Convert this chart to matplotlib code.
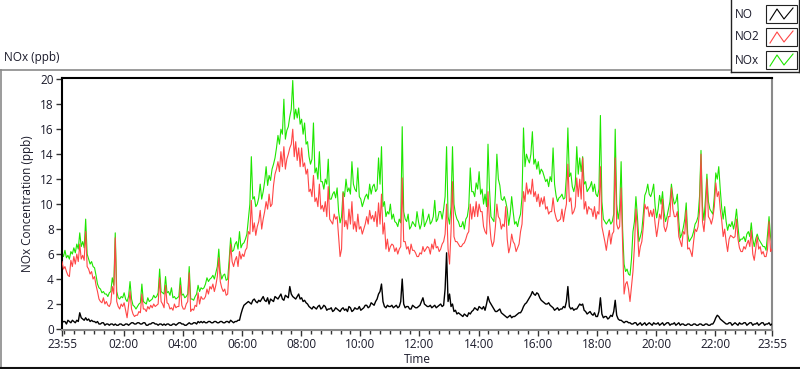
import matplotlib
matplotlib.use("Agg")
import matplotlib.pyplot as plt
import matplotlib.dates as mdates
from matplotlib.lines import Line2D
from matplotlib.patches import Rectangle
import pandas as pd

# ---------------- data (ppb) ----------------
# "_a" values: every 6 minutes from 23:55 (241 values)
# "_b" values: the samples in between, 3 minutes after each "_a" value (240 values)
start_time = "2024-01-01 23:55"
end_time = "2024-01-02 23:55"
step = "3min"

nox_a = [6.1, 6.3, 5.9, 6.2, 6.5, 6.8, 7.7, 7.0, 8.8, 5.6, 5.4, 4.9, 3.6, 3.2, 3.0, 2.8, 2.9, 4.1, 7.7, 2.5,
         2.6, 2.9, 2.2, 3.8, 1.9, 1.6, 2.0, 3.6, 2.1, 2.5, 2.3, 2.7, 2.6, 4.8, 2.9, 4.2, 3.0, 3.3, 2.6, 2.5,
         4.1, 2.8, 2.6, 5.0, 2.4, 2.6, 3.5, 3.3,
         3.3, 4.1, 4.0, 4.3, 4.5, 6.4, 4.0, 4.4, 4.0, 7.3, 6.3, 7.0, 7.8, 6.8, 7.2, 8.8, 13.8, 10.6, 10.0, 11.6,
         11.0, 13.0, 12.3, 12.8, 13.7, 15.5, 16.0, 18.4, 15.9, 17.0, 19.9, 17.6, 17.7, 16.8, 16.5, 15.0, 13.2, 16.5, 12.9, 14.2,
         11.8, 12.0, 13.6, 10.4, 11.0, 11.3, 8.5, 11.0,
         12.0, 11.3, 13.4, 11.2, 12.9, 10.4, 10.2, 10.8, 11.6, 11.4, 11.0, 13.7, 14.6, 10.2, 9.4, 10.0, 9.2, 8.5, 8.8, 16.2,
         8.8, 9.2, 8.2, 8.4, 9.4, 8.0, 9.6, 8.5, 9.2, 8.6, 10.3, 8.8, 9.4, 9.6, 14.6, 8.4, 14.6, 9.2, 8.6, 8.2,
         8.0, 9.0, 12.9, 11.0, 11.7, 12.6, 11.2, 10.8,
         14.8, 9.0, 8.6, 14.0, 11.5, 10.3, 10.2, 8.3, 10.6, 8.4, 8.2, 9.2, 16.1, 14.0, 13.3, 15.8, 13.6, 13.4, 12.8, 12.2,
         12.0, 12.2, 14.5, 10.7, 10.5, 10.8, 10.5, 16.1, 12.5, 11.0, 14.6, 13.7, 13.8, 11.8, 11.2, 11.8, 11.6, 10.6, 17.1, 8.8,
         8.4, 8.8, 8.6, 16.0, 8.8, 13.4, 5.2, 4.8,
         4.3, 7.8, 10.6, 7.0, 7.9, 10.7, 11.6, 10.6, 11.6, 8.9, 10.7, 11.0, 8.6, 9.6, 11.6, 10.0, 10.8, 7.3, 8.1, 10.1,
         7.0, 7.4, 8.4, 9.0, 14.3, 8.7, 12.4, 9.6, 9.2, 12.5, 13.0, 9.7, 9.8, 7.9, 8.2, 8.0, 9.6, 7.0, 7.2, 7.0,
         7.8, 8.5, 6.6, 7.6, 7.0, 6.6, 6.3, 9.0, 6.8]
nox_b = [5.8, 5.7, 5.6, 6.0, 6.1, 6.4, 6.6, 6.5, 6.0, 5.2, 5.0, 4.3, 3.3, 2.9, 2.8, 2.6, 3.0, 3.5, 3.0, 2.4,
         2.5, 2.4, 2.6, 2.4, 1.8, 1.8, 2.1, 2.2, 2.0, 2.2, 2.4, 2.5, 2.9, 3.0, 2.8, 2.9, 2.7, 2.5, 2.4, 2.6,
         2.7, 2.5, 2.8, 2.4, 2.3, 2.8, 3.0, 3.2,
         3.6, 3.8, 4.1, 4.0, 5.0, 4.6, 4.3, 3.9, 5.5, 6.2, 6.8, 6.4, 6.5, 6.9, 7.6, 10.0, 10.4, 9.8, 10.5, 10.4,
         11.8, 11.5, 11.9, 13.2, 14.5, 14.8, 15.6, 15.2, 16.2, 17.6, 16.8, 16.9, 16.4, 15.6, 14.8, 13.8, 13.6, 12.5, 12.0, 11.8,
         11.2, 11.6, 10.4, 10.8, 10.5, 9.4, 9.0, 10.6,
         11.0, 10.8, 11.6, 11.0, 10.6, 9.8, 10.6, 10.4, 10.8, 11.6, 11.2, 11.6, 9.8, 9.0, 9.2, 8.8, 8.6, 8.2, 8.5, 9.4,
         8.6, 8.0, 8.6, 8.2, 8.6, 8.4, 8.2, 8.8, 8.4, 9.0, 8.6, 9.4, 8.8, 10.6, 9.0, 9.8, 10.0, 8.8, 8.2, 8.6,
         8.8, 9.8, 11.0, 10.6, 11.2, 10.8, 10.0, 9.8,
         11.2, 8.8, 10.8, 12.0, 10.4, 10.6, 9.6, 9.2, 9.4, 8.6, 8.8, 10.6, 13.0, 13.6, 14.0, 13.2, 12.8, 12.4, 12.6, 11.8,
         11.4, 11.8, 11.6, 10.2, 10.6, 10.4, 12.2, 12.2, 11.4, 11.6, 12.4, 12.6, 11.6, 11.0, 11.4, 11.0, 10.8, 11.2, 10.2, 8.6,
         8.6, 8.4, 9.2, 10.0, 9.6, 8.0, 4.6, 4.4,
         5.6, 8.6, 9.0, 7.4, 9.2, 11.0, 10.8, 11.0, 9.8, 9.6, 10.0, 9.4, 9.0, 10.2, 10.6, 10.2, 8.6, 7.6, 8.8, 7.6,
         7.2, 7.8, 8.6, 10.6, 9.8, 10.4, 10.2, 9.4, 10.6, 12.0, 11.2, 8.8, 8.6, 8.4, 8.6, 8.6, 8.2, 7.2, 7.4, 7.6,
         7.4, 7.2, 7.2, 7.2, 6.8, 6.6, 7.6, 7.4]

no2_a = [5.4, 5.0, 4.3, 5.5, 5.8, 6.0, 6.8, 5.9, 7.8, 4.8, 4.6, 4.2, 3.0, 2.2, 2.5, 2.2, 1.8, 3.4, 7.3, 1.8,
         2.0, 2.1, 0.9, 3.0, 1.2, 1.1, 1.4, 2.8, 1.6, 1.8, 1.9, 2.0, 1.9, 4.1, 2.0, 3.5, 2.0, 1.7, 2.0, 1.8,
         3.5, 1.6, 2.0, 4.5, 1.6, 1.9, 2.9, 2.6,
         2.4, 3.2, 3.4, 3.6, 3.5, 5.7, 3.3, 3.2, 2.8, 6.8, 5.0, 5.8, 6.2, 6.0, 6.3, 7.8, 10.3, 8.5, 8.2, 9.5,
         8.8, 10.2, 10.8, 10.0, 12.4, 13.4, 14.2, 14.6, 13.6, 14.5, 16.0, 15.0, 14.5, 14.5, 13.3, 12.8, 11.2, 12.3, 10.5, 11.6,
         9.9, 10.2, 11.4, 8.6, 9.2, 9.0, 5.8, 10.9,
         8.7, 9.6, 10.2, 8.6, 9.2, 8.2, 8.0, 9.0, 9.5, 9.1, 9.4, 10.1, 10.8, 8.5, 7.2, 6.6, 6.7, 6.5, 6.4, 12.1,
         7.0, 6.6, 6.8, 6.3, 5.8, 6.1, 6.6, 6.4, 6.5, 6.8, 7.2, 6.6, 6.4, 7.0, 10.0, 5.2, 11.8, 7.0, 6.8, 6.6,
         6.9, 7.6, 10.0, 9.8, 10.2, 10.0, 9.4, 7.8,
         11.0, 7.2, 7.0, 10.0, 8.8, 8.4, 9.8, 6.1, 7.6, 6.8, 6.5, 7.8, 11.0, 11.7, 11.2, 12.0, 11.0, 10.8, 10.5, 10.6,
         9.8, 9.4, 10.5, 8.9, 8.7, 9.6, 9.4, 13.2, 10.5, 9.4, 12.1, 12.0, 13.7, 10.2, 9.8, 9.6, 9.8, 9.4, 13.0, 7.6,
         6.3, 7.9, 7.6, 13.7, 8.0, 11.3, 2.8, 3.8,
         2.2, 4.6, 9.6, 5.8, 7.0, 10.0, 9.8, 9.5, 9.6, 7.4, 9.2, 10.4, 7.8, 9.0, 11.3, 9.0, 9.4, 7.0, 7.8, 9.5,
         6.5, 5.8, 8.0, 8.2, 14.0, 7.8, 12.0, 8.8, 8.9, 11.7, 11.0, 8.7, 8.0, 6.2, 7.5, 7.3, 8.8, 6.5, 6.2, 6.4,
         7.1, 7.9, 5.5, 7.4, 6.6, 6.2, 5.8, 8.6, 6.4]
no2_b = [4.8, 4.6, 4.2, 5.0, 5.2, 5.4, 5.6, 5.5, 5.0, 4.4, 4.0, 3.5, 2.4, 2.1, 2.0, 1.9, 2.1, 2.8, 2.2, 1.6,
         1.8, 1.5, 1.9, 1.6, 1.0, 1.1, 1.3, 1.6, 1.4, 1.6, 1.7, 1.8, 2.0, 2.2, 1.7, 2.1, 1.6, 1.5, 1.7, 1.8,
         1.9, 1.6, 2.2, 1.4, 1.5, 1.8, 2.0, 2.4,
         2.6, 2.8, 3.2, 3.0, 4.2, 3.8, 3.0, 2.7, 4.8, 5.4, 5.5, 5.0, 5.6, 5.8, 6.5, 7.6, 7.8, 7.5, 8.6, 8.0,
         9.4, 9.6, 9.8, 11.5, 12.8, 12.6, 13.0, 12.8, 14.0, 14.8, 13.8, 13.5, 13.0, 13.0, 12.4, 11.0, 10.6, 10.2, 9.8, 9.6,
         9.4, 9.0, 8.8, 8.4, 8.8, 7.4, 6.4, 8.2,
         8.0, 8.4, 8.0, 7.8, 8.0, 7.6, 8.4, 8.4, 8.8, 8.6, 8.2, 8.4, 7.6, 6.4, 6.2, 6.8, 6.2, 6.0, 6.6, 7.0,
         6.4, 6.0, 6.3, 6.1, 5.8, 6.0, 6.2, 6.6, 6.0, 6.4, 6.5, 6.2, 6.8, 7.6, 6.4, 7.8, 7.4, 7.0, 6.6, 6.8,
         7.2, 7.8, 8.8, 9.0, 9.0, 9.4, 8.2, 7.6,
         8.6, 6.6, 8.2, 9.0, 8.0, 8.2, 7.2, 6.6, 7.0, 6.2, 6.8, 8.4, 10.2, 10.8, 10.8, 10.6, 10.2, 9.8, 10.0, 9.6,
         9.2, 9.4, 9.4, 8.6, 8.8, 8.6, 10.0, 10.2, 9.2, 9.8, 10.6, 10.4, 9.6, 9.2, 9.6, 9.0, 8.8, 9.2, 8.2, 7.0,
         7.2, 6.8, 7.8, 8.4, 8.2, 6.8, 3.6, 3.2,
         3.4, 6.6, 8.0, 6.6, 8.2, 9.6, 9.0, 9.0, 8.4, 8.2, 8.8, 8.2, 8.2, 9.0, 9.6, 9.0, 7.4, 6.6, 7.6, 6.4,
         6.2, 7.0, 7.8, 9.4, 8.6, 9.2, 9.0, 8.4, 9.8, 10.6, 9.6, 7.4, 7.0, 7.2, 7.4, 7.4, 7.2, 6.2, 6.6, 6.8,
         6.6, 6.0, 6.4, 6.4, 6.0, 5.8, 6.4, 6.2]

no_a = [0.5, 0.6, 0.7, 0.5, 0.6, 0.7, 1.3, 0.8, 0.9, 0.8, 0.7, 0.6, 0.6, 0.4, 0.5, 0.4, 0.3, 0.4, 0.4, 0.3,
        0.4, 0.3, 0.4, 0.4, 0.5, 0.4, 0.5, 0.4, 0.5, 0.3, 0.4, 0.5, 0.4, 0.4, 0.3, 0.3, 0.4, 0.3, 0.4, 0.4,
        0.5, 0.4, 0.3, 0.5, 0.4, 0.5, 0.6, 0.6,
        0.6, 0.5, 0.6, 0.5, 0.6, 0.5, 0.6, 0.5, 0.6, 0.7, 0.5, 0.6, 0.7, 1.6, 2.0, 2.2, 2.0, 2.4, 2.1, 2.2,
        2.6, 2.2, 2.0, 2.3, 2.6, 2.4, 2.8, 2.3, 2.6, 3.4, 2.6, 2.4, 2.8, 2.5, 2.3, 2.0, 1.7, 1.8, 1.6, 1.9,
        1.7, 1.8, 1.6, 1.7, 1.5, 1.6, 1.4, 1.7,
        1.6, 1.8, 1.4, 1.7, 1.6, 1.5, 1.7, 1.9, 1.8, 2.0, 2.2, 2.8, 3.6, 1.8, 1.9, 1.8, 1.7, 1.9, 1.8, 4.0,
        1.7, 1.8, 1.6, 1.8, 1.7, 1.9, 2.5, 1.9, 1.8, 1.7, 1.9, 1.8, 2.0, 1.9, 6.1, 2.8, 2.0, 1.5, 1.3, 1.1,
        1.2, 1.0, 1.2, 1.5, 1.6, 1.8, 1.6, 1.5,
        2.6, 2.0, 1.6, 1.4, 1.6, 1.2, 1.0, 1.0, 0.9, 1.0, 1.2, 1.3, 1.8, 2.1, 2.5, 3.0, 2.7, 2.8, 2.3, 2.1,
        2.0, 1.9, 1.7, 1.6, 1.5, 1.6, 1.7, 3.4, 1.6, 1.5, 1.6, 2.0, 2.0, 1.4, 1.3, 1.2, 1.3, 1.0, 2.5, 0.9,
        1.0, 0.9, 1.0, 2.3, 0.8, 0.7, 0.5, 0.6,
        0.5, 0.4, 0.5, 0.4, 0.3, 0.5, 0.4, 0.4, 0.5, 0.4, 0.3, 0.5, 0.4, 0.5, 0.4, 0.5, 0.4, 0.3, 0.4, 0.3,
        0.4, 0.3, 0.4, 0.3, 0.4, 0.3, 0.4, 0.3, 0.4, 0.9, 1.0, 0.7, 0.5, 0.4, 0.5, 0.4, 0.4, 0.5, 0.4, 0.5,
        0.4, 0.5, 0.4, 0.5, 0.4, 0.5, 0.4, 0.5, 0.4]
no_b = [0.6, 0.4, 0.6, 0.7, 0.5, 0.6, 0.9, 0.7, 0.7, 0.6, 0.6, 0.5, 0.4, 0.5, 0.3, 0.4, 0.4, 0.3, 0.3, 0.4,
        0.3, 0.4, 0.3, 0.5, 0.4, 0.5, 0.4, 0.5, 0.3, 0.4, 0.5, 0.4, 0.3, 0.4, 0.4, 0.4, 0.3, 0.4, 0.3, 0.5,
        0.4, 0.3, 0.4, 0.4, 0.5, 0.4, 0.5, 0.5,
        0.5, 0.6, 0.5, 0.6, 0.5, 0.6, 0.5, 0.6, 0.5, 0.6, 0.6, 0.7, 1.2, 1.9, 2.1, 2.1, 2.3, 2.2, 2.3, 2.4,
        2.3, 2.5, 2.4, 2.2, 2.5, 2.6, 2.4, 2.7, 2.5, 2.8, 2.5, 2.6, 2.4, 2.2, 2.1, 1.8, 1.6, 1.7, 1.8, 1.6,
        1.9, 1.5, 1.6, 1.4, 1.7, 1.5, 1.6, 1.5,
        1.4, 1.7, 1.5, 1.6, 1.8, 1.6, 1.9, 1.7, 2.1, 1.9, 2.4, 3.0, 2.2, 1.7, 1.8, 1.9, 1.8, 1.7, 2.2, 2.0,
        1.8, 1.6, 1.9, 1.7, 1.8, 2.2, 2.0, 1.8, 1.9, 1.8, 1.7, 1.9, 1.8, 3.2, 2.2, 1.8, 1.4, 1.2, 1.2, 1.0,
        1.1, 1.3, 1.4, 1.7, 1.5, 1.7, 1.8, 2.0,
        2.2, 1.8, 1.4, 1.5, 1.3, 1.1, 0.9, 1.1, 1.0, 1.1, 1.3, 1.5, 2.0, 2.3, 2.7, 2.8, 2.9, 2.5, 2.2, 2.0,
        2.1, 1.8, 1.5, 1.7, 1.6, 1.8, 2.2, 1.8, 1.7, 1.6, 1.8, 1.9, 1.5, 1.2, 1.4, 1.1, 1.0, 1.4, 1.2, 1.0,
        0.8, 1.1, 1.4, 1.1, 0.7, 0.6, 0.6, 0.5,
        0.4, 0.5, 0.3, 0.5, 0.4, 0.3, 0.5, 0.3, 0.4, 0.5, 0.4, 0.3, 0.5, 0.3, 0.4, 0.3, 0.5, 0.4, 0.3, 0.4,
        0.3, 0.4, 0.3, 0.4, 0.3, 0.4, 0.3, 0.4, 0.6, 1.1, 0.8, 0.6, 0.4, 0.5, 0.3, 0.5, 0.3, 0.4, 0.5, 0.3,
        0.5, 0.3, 0.4, 0.3, 0.5, 0.3, 0.4, 0.3]

series_names = ["NO", "NO2", "NOx"]
y_ticks = [0, 2, 4, 6, 8, 10, 12, 14, 16, 18, 20]
x_tick_labels = ["23:55", "02:00", "04:00", "06:00", "08:00", "10:00", "12:00",
                 "14:00", "16:00", "18:00", "20:00", "22:00", "23:55"]


def interleave(a, b):
    out = []
    for i, v in enumerate(a):
        out.append(v)
        if i < len(b):
            out.append(b[i])
    return out


nox = interleave(nox_a, nox_b)
no2 = interleave(no2_a, no2_b)
no = interleave(no_a, no_b)

# ---------------- styling ----------------
W, H = 800, 369
C_NO, C_NO2, C_NOX = "#000000", "#ff4646", "#1ee600"
TXT = "#1a1a2a"
FONT = ["Open Sans", "DejaVu Sans"]
plt.rcParams["font.family"] = FONT

fig = plt.figure(figsize=(W / 100, H / 100), dpi=100)
fig.patch.set_facecolor("white")


def fx(px):
    return px / W


def fy(py):
    return 1 - py / H


# axes area in pixels
L, R, T, B = 62, 772, 78, 330
ax = fig.add_axes([fx(L), fy(B), fx(R) - fx(L), fy(T) - fy(B)])

times = pd.date_range(start_time, periods=len(nox), freq=step)
ax.plot(times, nox, color=C_NOX, lw=0.8, zorder=2)
ax.plot(times, no2, color=C_NO2, lw=0.8, zorder=3)
ax.plot(times, no, color=C_NO, lw=1.0, zorder=4)

t0, t1 = pd.Timestamp(start_time), pd.Timestamp(end_time)
ax.set_xlim(t0, t1)
ax.set_ylim(-0.08, 20.1)

day2 = t0.normalize() + pd.Timedelta(days=1)
major = [t0] + [day2 + pd.Timedelta(hours=int(s[:2])) for s in x_tick_labels[1:-1]] + [t1]
ax.set_xticks(major)
ax.set_xticklabels(x_tick_labels)
ax.xaxis.set_minor_locator(mdates.MinuteLocator(byminute=[0, 20, 40]))
ax.set_yticks(y_ticks)
ax.set_yticklabels([str(v) for v in y_ticks])

ax.tick_params(axis="both", which="major", length=4, width=1, color="#333333",
               labelsize=8.5, labelcolor=TXT, pad=2)
ax.tick_params(axis="x", which="minor", length=3, width=1, color="#333333")

for s in ["left", "top"]:
    ax.spines[s].set_color("black")
    ax.spines[s].set_linewidth(1.5)
for s in ["right", "bottom"]:
    ax.spines[s].set_color("#8a8a8a")
    ax.spines[s].set_linewidth(1.5)

ax.set_ylabel("NOx Concentration (ppb)", fontsize=8.5, color=TXT, labelpad=4)
ax.set_xlabel("Time", fontsize=8.5, color=TXT, labelpad=1)

# panel title and frame
fig.text(fx(4), fy(58), "NOx (ppb)", fontsize=8.5, color=TXT, ha="left", va="center")
fig.add_artist(Line2D([fx(0), fx(730)], [fy(69.5), fy(69.5)], color="#8a8a8a", lw=1.2))
fig.add_artist(Line2D([fx(0.5), fx(0.5)], [fy(69.5), fy(369)], color="#8a8a8a", lw=1.2))
fig.add_artist(Line2D([fx(0), fx(800)], [fy(367.5), fy(367.5)], color="#111111", lw=1.5))

# legend panel
fig.add_artist(Line2D([fx(730.5), fx(730.5)], [fy(0), fy(72)], color="#222222", lw=1))
fig.add_artist(Line2D([fx(730.5), fx(799)], [fy(72), fy(72)], color="#222222", lw=1))
fig.add_artist(Line2D([fx(799), fx(799)], [fy(0), fy(72)], color="#222222", lw=1))
leg_colors = [C_NO, C_NO2, C_NOX]
for i, (name, col) in enumerate(zip(series_names, leg_colors)):
    yc = 14 + i * 23
    fig.text(fx(735), fy(yc), name, fontsize=8.5, color=TXT, ha="left", va="center")
    fig.add_artist(Rectangle((fx(766), fy(yc + 9)), fx(31), fy(0) - fy(18),
                             facecolor="white", edgecolor="#222222", lw=0.8))
    zx = [fx(770), fx(777), fx(784), fx(793)]
    zy = [fy(yc + 6), fy(yc - 5), fy(yc + 5), fy(yc - 6)]
    fig.add_artist(Line2D(zx, zy, color=col, lw=0.8))

fig.savefig("out.png", dpi=100, facecolor="white")
